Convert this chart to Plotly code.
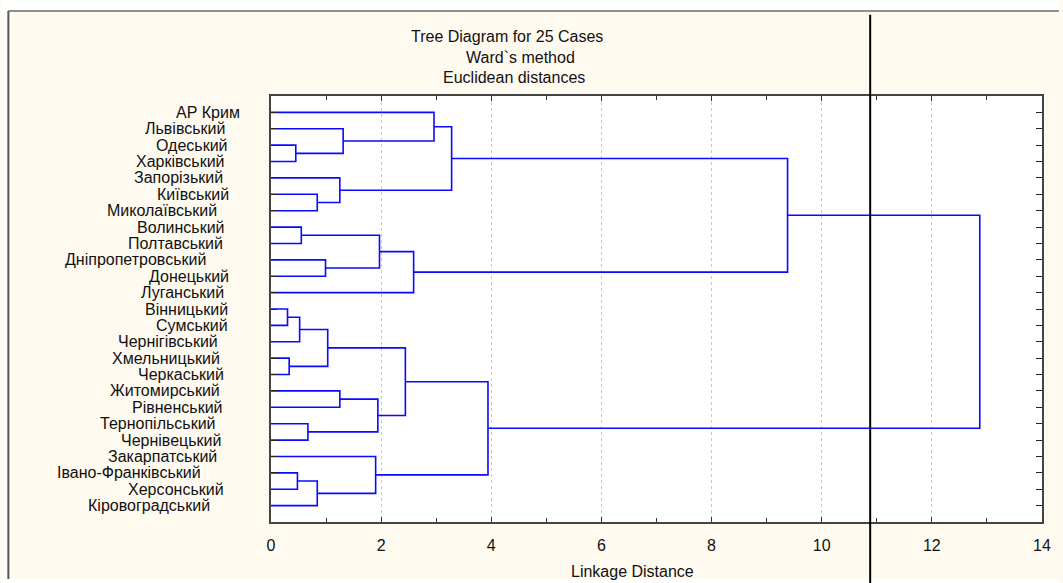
import plotly.graph_objects as go

# Cases (oblasts) in dendrogram leaf order, top to bottom
cases = [
    "АР Крим", "Львівський", "Одеський", "Харківський", "Запорізький",
    "Київський", "Миколаївський", "Волинський", "Полтавський",
    "Дніпропетровський", "Донецький", "Луганський", "Вінницький",
    "Сумський", "Чернігівський", "Хмельницький", "Черкаський",
    "Житомирський", "Рівненський", "Тернопільський", "Чернівецький",
    "Закарпатський", "Івано-Франківський", "Херсонський", "Кіровоградський",
]

# Ward linkage: clusters 0..24 are the cases, each merge creates cluster 25, 26, ...
merge_a = [12, 15, 2, 22, 25, 7, 19, 5, 28, 9, 29, 4, 17, 1, 21, 37, 30, 35, 41, 0, 44, 42, 45, 47]
merge_b = [13, 16, 3, 23, 14, 8, 20, 6, 24, 10, 26, 32, 18, 27, 33, 31, 34, 40, 11, 38, 36, 39, 43, 46]
merge_dist = [0.30, 0.33, 0.45, 0.48, 0.52, 0.55, 0.67, 0.84, 0.84, 0.99, 1.03, 1.25,
              1.25, 1.31, 1.90, 1.94, 1.97, 2.44, 2.59, 2.96, 3.28, 3.94, 9.38, 12.87]

cut_distance = 10.88
x_ticks = list(range(0, 15, 2))

title_lines = ["Tree Diagram for 25 Cases", "Ward`s method", "Euclidean distances"]
x_title = "Linkage Distance"

# ---- figure geometry (pixels) ----
W, H = 1063, 583
ML, MR, MT, MB = 271, 17, 96, 61
PW, PH = W - ML - MR, H - MT - MB


def px(xp):
    return (xp - ML) / PW


def py(yp):
    return (H - MB - yp) / PH


FONT = "Liberation Sans, Arial, sans-serif"
FS = 16
BLUE = "#0a0aff"

# ---- build dendrogram segments ----
node_x = [0.0] * len(cases)
node_y = [i + 1 for i in range(len(cases))]
xs, ys = [], []
for a, b, d in zip(merge_a, merge_b, merge_dist):
    xs += [node_x[a], d, d, node_x[b], None]
    ys += [node_y[a], node_y[a], node_y[b], node_y[b], None]
    node_x.append(d)
    node_y.append((node_y[a] + node_y[b]) / 2)

fig = go.Figure()
fig.add_trace(go.Scatter(
    x=xs, y=ys, mode="lines",
    line=dict(color=BLUE, width=1.6),
    hoverinfo="skip", showlegend=False,
))

# right edge of each case label, in pixels from the left side of the plot area
label_shift = [-29.3, -43.7, -41, -43.7, -46, -40.3, -52, -44.3, -46, -62.7, -40.3, -45.3,
               -41, -41, -51, -48.7, -45, -48.7, -46, -52.7, -48.3, -51.7, -67.7, -45.3, -59.3]

annotations = []
for i, (name, sh) in enumerate(zip(cases, label_shift)):
    annotations.append(dict(
        text=name, xref="paper", yref="y", x=0, y=i + 1,
        xanchor="right", yanchor="middle", xshift=sh, showarrow=False,
        font=dict(family=FONT, size=FS, color="#111"),
    ))

# title block (three lines, each placed on its own)
for txt, x0, yc in zip(title_lines, [410, 465, 442], [36.7, 57.3, 77.3]):
    annotations.append(dict(
        text=txt, xref="paper", yref="paper", x=px(x0), y=py(yc),
        xanchor="left", yanchor="middle", showarrow=False,
        font=dict(family=FONT, size=FS, color="#111"),
    ))

annotations.append(dict(
    text=x_title, xref="paper", yref="paper", x=px(634.8), y=py(571.7),
    xanchor="center", yanchor="middle", showarrow=False,
    font=dict(family=FONT, size=FS, color="#111"),
))

shapes = [
    # white margin outside the cream frame
    dict(type="rect", xref="paper", yref="paper", x0=px(0), x1=px(W), y0=py(11), y1=py(0),
         fillcolor="white", line=dict(width=0), layer="below"),
    dict(type="rect", xref="paper", yref="paper", x0=px(0), x1=px(7), y0=py(H), y1=py(0),
         fillcolor="white", line=dict(width=0), layer="below"),
    dict(type="rect", xref="paper", yref="paper", x0=px(0), x1=px(W), y0=py(H), y1=py(579),
         fillcolor="white", line=dict(width=0), layer="below"),
    # frame borders
    dict(type="line", xref="paper", yref="paper", x0=px(7), x1=px(W), y0=py(11), y1=py(11),
         line=dict(color="#222", width=1)),
    dict(type="line", xref="paper", yref="paper", x0=px(7), x1=px(7), y0=py(11), y1=py(579),
         line=dict(color="#555", width=2)),
    # cut line
    dict(type="line", xref="x", yref="paper", x0=cut_distance, x1=cut_distance,
         y0=py(H + 5), y1=py(14.7), line=dict(color="black", width=2), layer="above"),
]

fig.update_layout(
    width=W, height=H,
    margin=dict(l=ML, r=MR, t=MT, b=MB, pad=0),
    paper_bgcolor="#FFFAF0",
    plot_bgcolor="white",
    showlegend=False,
    annotations=annotations,
    shapes=shapes,
    font=dict(family=FONT, size=FS, color="#111"),
)

fig.update_xaxes(
    range=[0, 14], tickvals=x_ticks, ticks="inside", ticklen=5, tickcolor="#333",
    showline=True, linecolor="#444", linewidth=2, mirror="allticks",
    showgrid=True, gridcolor="#c8c8c8", griddash="dot", gridwidth=1,
    zeroline=False, ticklabelstandoff=8,
    tickfont=dict(family=FONT, size=FS, color="#111"),
    minor=dict(dtick=1, tick0=0, ticks="inside", ticklen=4, tickcolor="#333", showgrid=False),
)
fig.update_yaxes(
    range=[26, 0], tickvals=list(range(1, len(cases) + 1)), ticks="inside", ticklen=6,
    tickcolor="#222", showticklabels=False, showline=True, linecolor="#444", linewidth=2,
    mirror="allticks", showgrid=False, zeroline=False,
)

fig.write_html("out.html")
